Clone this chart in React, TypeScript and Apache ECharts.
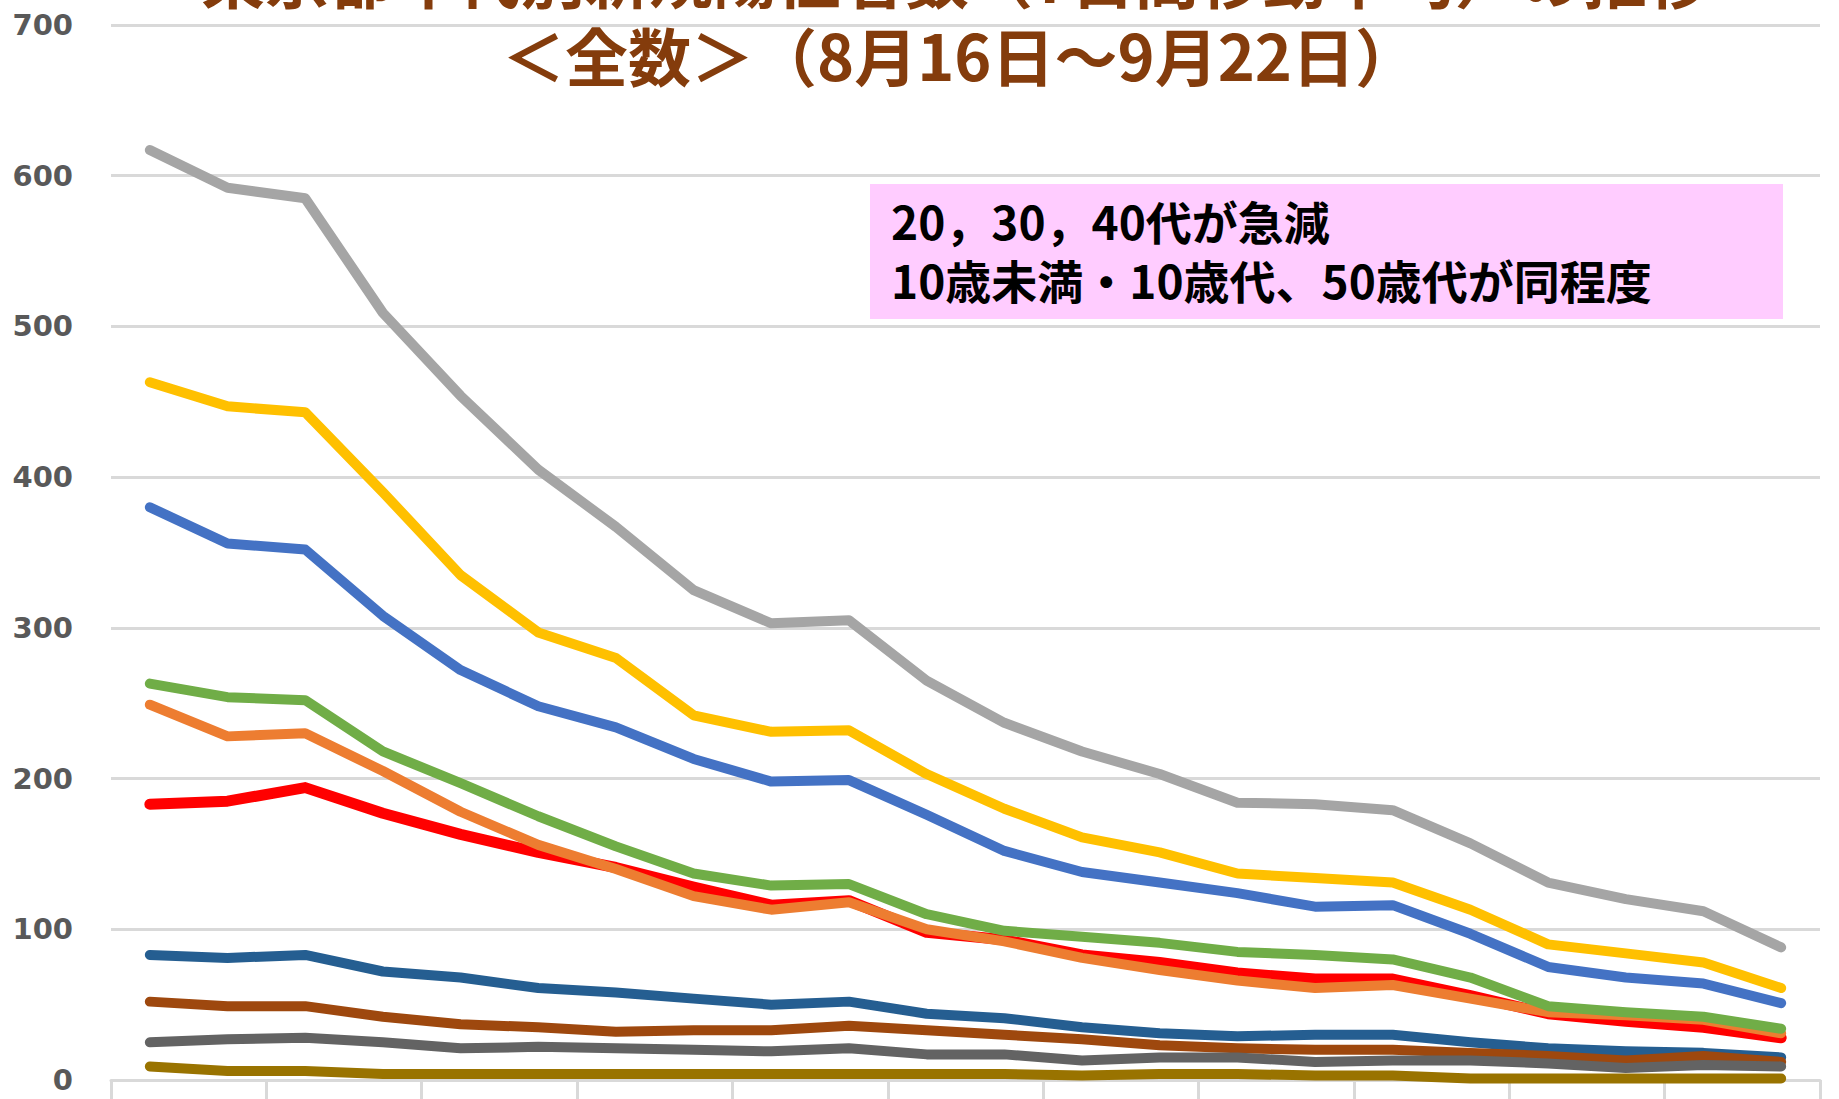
import React, { useEffect, useRef } from "react";
import * as echarts from "echarts";

const categories = [
  "1", "2", "3", "4", "5", "6", "7", "8", "9", "10", "11",
  "12", "13", "14", "15", "16", "17", "18", "19", "20", "21", "22",
];

const under10 = [183, 185, 194, 177, 163, 151, 141, 128, 116, 119, 98, 93, 83, 78, 71, 67, 67, 56, 44, 39, 35, 28];
const teens = [249, 228, 230, 205, 178, 156, 140, 122, 113, 118, 100, 92, 81, 73, 66, 61, 63, 54, 45, 43, 40, 31];
const twenties = [617, 592, 585, 509, 454, 405, 367, 325, 303, 305, 265, 237, 218, 203, 184, 183, 179, 157, 131, 120, 112, 88];
const thirties = [463, 447, 443, 390, 335, 297, 280, 242, 231, 232, 203, 180, 161, 151, 137, 134, 131, 113, 90, 84, 78, 61];
const forties = [380, 356, 352, 308, 272, 248, 234, 213, 198, 199, 176, 152, 138, 131, 124, 115, 116, 97, 75, 68, 64, 51];
const fifties = [263, 254, 252, 218, 197, 175, 155, 137, 129, 130, 110, 99, 95, 91, 85, 83, 80, 68, 49, 45, 42, 34];
const sixties = [83, 81, 83, 72, 68, 61, 58, 54, 50, 52, 44, 41, 35, 31, 29, 30, 30, 25, 21, 19, 18, 15];
const seventies = [52, 49, 49, 42, 37, 35, 32, 33, 33, 36, 33, 30, 27, 23, 21, 20, 20, 18, 16, 13, 16, 12];
const eighties = [25, 27, 28, 25, 21, 22, 21, 20, 19, 21, 17, 17, 13, 15, 15, 12, 13, 13, 11, 8, 10, 9];
const nineties = [9, 6, 6, 4, 4, 4, 4, 4, 4, 4, 4, 4, 3, 4, 4, 3, 3, 1, 1, 1, 1, 1];

const seriesNames = ["10歳未満", "10代", "20代", "30代", "40代", "50代", "60代", "70代", "80代", "90代以上"];
const seriesData = [under10, teens, twenties, thirties, forties, fifties, sixties, seventies, eighties, nineties];
const seriesColors = ["#FF0000", "#ED7D31", "#A5A5A5", "#FFC000", "#4472C4", "#70AD47", "#255E91", "#9E480E", "#636363", "#997300"];

const titleLine1 = "東京都年代別新規陽性者数（7日間移動平均）の推移";
const titleLine2 = "＜全数＞（8月16日～9月22日）";
const noteLine1 = "20，30，40代が急減";
const noteLine2 = "10歳未満・10歳代、50歳代が同程度";

const CJK = '"Noto Sans CJK JP", "Noto Sans", sans-serif';

export default function App() {
  const ref = useRef<HTMLDivElement>(null);

  useEffect(() => {
    if (!ref.current) return;
    const chart = echarts.init(ref.current, null, { renderer: "svg" });
    chart.setOption({
      animation: false,
      backgroundColor: "#FFFFFF",
      grid: { left: 111, right: 19, top: 25, bottom: 19, containLabel: false },
      xAxis: {
        type: "category",
        data: categories,
        boundaryGap: true,
        axisLine: { show: true, lineStyle: { color: "#D9D9D9", width: 3 } },
        axisTick: { show: true, interval: 1, length: 22, lineStyle: { color: "#D9D9D9", width: 3 } },
        axisLabel: { show: false },
        splitLine: { show: false },
      },
      yAxis: {
        type: "value",
        min: 0,
        max: 700,
        interval: 100,
        axisLine: { show: false },
        axisTick: { show: false },
        axisLabel: {
          margin: 38,
          color: "#595959",
          fontFamily: '"DejaVu Sans", sans-serif',
          fontWeight: "bold",
          fontSize: 29,
        },
        splitLine: { show: true, lineStyle: { color: "#D9D9D9", width: 3 } },
      },
      series: seriesNames.map((name, i) => ({
        name,
        type: "line",
        data: seriesData[i],
        symbol: "none",
        smooth: false,
        lineStyle: { color: seriesColors[i], width: i === 0 ? 11 : 10, cap: "round", join: "round" },
        itemStyle: { color: seriesColors[i] },
        z: 2 + i * 0.01,
      })),
      graphic: [
        {
          type: "text",
          style: {
            text: titleLine1,
            x: 956,
            y: -25,
            align: "center",
            verticalAlign: "middle",
            fill: "#843C0C",
            font: `bold 64px ${CJK}`,
          },
          z: 10,
        },
        {
          type: "text",
          style: {
            text: titleLine2,
            x: 960,
            y: 53,
            align: "center",
            verticalAlign: "middle",
            fill: "#843C0C",
            font: `bold 63px ${CJK}`,
          },
          z: 10,
        },
        {
          type: "rect",
          shape: { x: 870, y: 184, width: 913, height: 135 },
          style: { fill: "#FFCCFF" },
          z: 10,
        },
        {
          type: "text",
          style: {
            text: noteLine1,
            x: 891,
            y: 220,
            align: "left",
            verticalAlign: "middle",
            fill: "#000000",
            font: `bold 46px ${CJK}`,
          },
          z: 11,
        },
        {
          type: "text",
          style: {
            text: noteLine2,
            x: 891,
            y: 279,
            align: "left",
            verticalAlign: "middle",
            fill: "#000000",
            font: `bold 46px ${CJK}`,
          },
          z: 11,
        },
      ],
    });
    return () => chart.dispose();
  }, []);

  return (
    <div
      ref={ref}
      style={{ position: "absolute", left: 0, top: 0, width: 1839, height: 1099, background: "#FFFFFF" }}
    />
  );
}
